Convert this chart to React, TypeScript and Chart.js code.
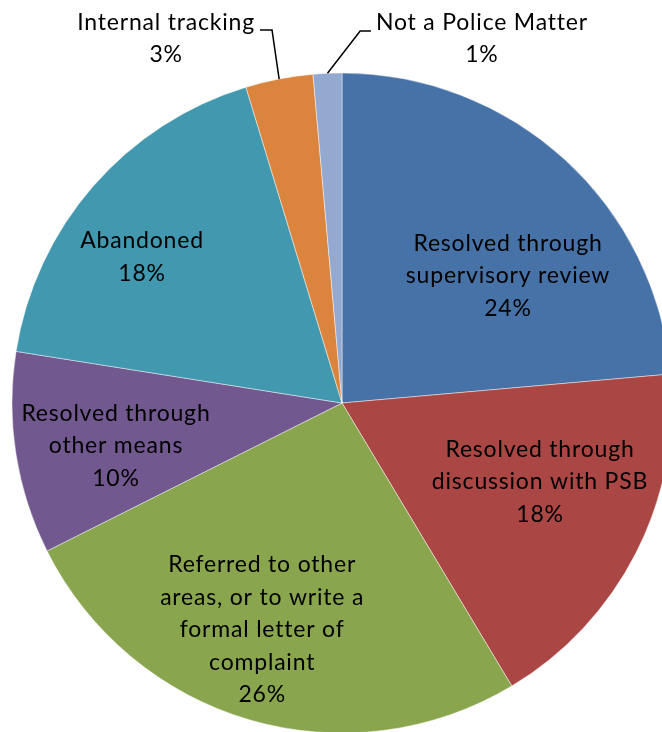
import React, { useEffect, useRef } from "react";
import { Chart, registerables } from "chart.js";

Chart.register(...registerables);

// Outcome categories, clockwise from 12 o'clock
const categories = [
  "Resolved through supervisory review",
  "Resolved through discussion with PSB",
  "Referred to other areas, or to write a formal letter of complaint",
  "Resolved through other means",
  "Abandoned",
  "Internal tracking",
  "Not a Police Matter",
];

// Share of cases (%)
const shares = [23.6, 17.8, 26.2, 9.9, 17.8, 3.3, 1.4];

// Wrapped label text for each category
const labelLines = [
  ["Resolved through", "supervisory review"],
  ["Resolved through", "discussion with PSB"],
  ["Referred to other", "areas, or to write a", "formal letter of", "complaint"],
  ["Resolved through", "other means"],
  ["Abandoned"],
  ["Internal tracking"],
  ["Not a Police Matter"],
];

const colors = ["#4672A8", "#AA4744", "#89A54E", "#71588F", "#4198AF", "#DB843D", "#93A9CF"];

// Label block centre, in units of the pie radius relative to the pie centre
const labelPos: [number, number][] = [
  [0.503, -0.385],
  [0.6, 0.239],
  [-0.242, 0.688],
  [-0.685, 0.13],
  [-0.606, -0.442],
  [-0.533, -1.105],
  [0.424, -1.105],
];

// Leader-line elbow (radius units) for labels placed outside the pie; null = inside
const leaderElbow: ([number, number] | null)[] = [
  null, null, null, null, null,
  [-0.212, -1.13],
  [0.055, -1.127],
];

const FONT = "23px Lato, 'Liberation Sans', sans-serif";
const LETTER_SPACING = "0.8px";
const LINE_H = 32.5;

const sliceLabels = {
  id: "sliceLabels",
  afterDatasetsDraw(chart: any) {
    const ctx = chart.ctx;
    const meta = chart.getDatasetMeta(0);
    const data = chart.data.datasets[0].data as number[];
    const total = data.reduce((a, b) => a + b, 0);
    ctx.save();
    ctx.font = FONT;
    (ctx as any).letterSpacing = LETTER_SPACING;
    ctx.fillStyle = "#000";
    ctx.textAlign = "center";
    ctx.textBaseline = "middle";
    meta.data.forEach((arc: any, i: number) => {
      const { x, y, startAngle, endAngle, outerRadius } = arc.getProps(
        ["x", "y", "startAngle", "endAngle", "outerRadius"],
        true
      );
      const r = outerRadius;
      const lines = [...labelLines[i], `${Math.round((data[i] / total) * 100)}%`];
      const cx = x + labelPos[i][0] * r;
      const cy = y + labelPos[i][1] * r;
      const top = cy - ((lines.length - 1) * LINE_H) / 2;
      lines.forEach((t, k) => ctx.fillText(t, cx, top + k * LINE_H));

      const elbow = leaderElbow[i];
      if (elbow) {
        const mid = (startAngle + endAngle) / 2;
        const ex = x + elbow[0] * r;
        const ey = y + elbow[1] * r;
        const w = ctx.measureText(labelLines[i][0]).width;
        const textEdge = ex < cx ? cx - w / 2 - 5 : cx + w / 2 + 5;
        ctx.beginPath();
        ctx.strokeStyle = "#000";
        ctx.lineWidth = 1.5;
        ctx.moveTo(x + Math.cos(mid) * r, y + Math.sin(mid) * r);
        ctx.lineTo(ex, ey);
        ctx.lineTo(textEdge, ey);
        ctx.stroke();
      }
    });
    ctx.restore();
  },
};

export default function App() {
  const canvasRef = useRef<HTMLCanvasElement | null>(null);

  useEffect(() => {
    const canvas = canvasRef.current;
    if (!canvas) return;
    const chart = new Chart(canvas, {
      type: "pie",
      data: {
        labels: categories,
        datasets: [
          {
            data: shares,
            backgroundColor: colors,
            borderColor: "rgba(255,255,255,0.6)",
            borderWidth: 0.75,
            radius: 330,
            clip: false,
          } as any,
        ],
      },
      options: {
        responsive: false,
        animation: false,
        layout: { padding: { left: 22, right: 0, top: 74, bottom: 0 } },
        plugins: {
          legend: { display: false },
          tooltip: { enabled: false },
        },
      },
      plugins: [sliceLabels],
    });
    return () => chart.destroy();
  }, []);

  return (
    <div style={{ position: "fixed", left: 0, top: 0, width: 662, height: 732, background: "#fff" }}>
      <canvas ref={canvasRef} width={662} height={732} />
    </div>
  );
}
